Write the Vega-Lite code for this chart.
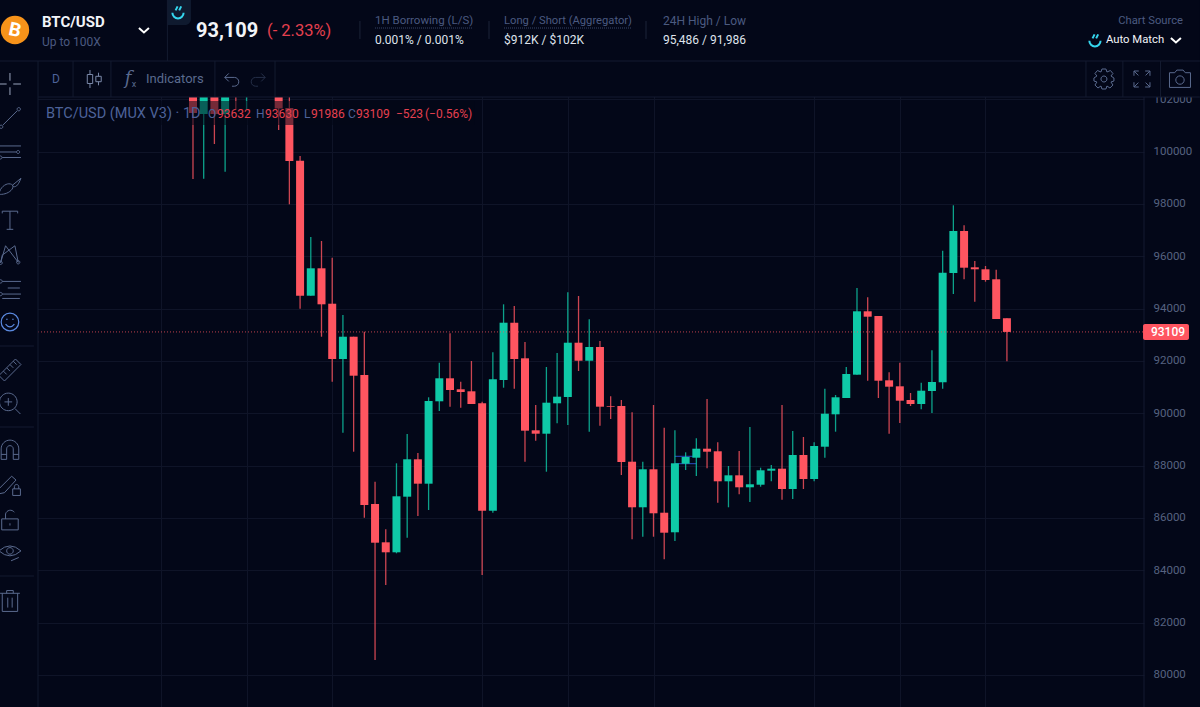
{
"$schema":"https://vega.github.io/schema/vega-lite/v6.json",
"width":1144,"height":707,"autosize":"none","padding":{"left":0,"top":0,"right":56,"bottom":0},
"background":"#030718",
"config":{"font":"Roboto","view":{"stroke":null}},
"data":{"values":[{}]},
"datasets":{
"markers":[{"from":45,"to":47,"price":88356},{"from":45,"to":47,"price":88074}],
"candles":[
{"day":0,"open":103200,"high":103500,"low":98952,"close":101474},
{"day":1,"open":101436,"high":103300,"low":98964,"close":103000},
{"day":2,"open":103000,"high":103400,"low":100290,"close":101436},
{"day":3,"open":101436,"high":103100,"low":99231,"close":102900},
{"day":4,"open":103500,"high":103900,"low":101589,"close":102700},
{"day":5,"open":102500,"high":103600,"low":101589,"close":103200},
{"day":8,"open":103000,"high":103300,"low":100824,"close":101646},
{"day":9,"open":101665,"high":102300,"low":97986,"close":99640},
{"day":10,"open":99651,"high":99831,"low":93996,"close":94493},
{"day":11,"open":94493,"high":96736,"low":94493,"close":95540},
{"day":12,"open":95540,"high":96583,"low":92926,"close":94164},
{"day":13,"open":94187,"high":95945,"low":91207,"close":92074},
{"day":14,"open":92074,"high":93756,"low":89258,"close":92926},
{"day":15,"open":92926,"high":92926,"low":88532,"close":91436},
{"day":16,"open":91463,"high":93118,"low":86010,"close":86496},
{"day":17,"open":86534,"high":87386,"low":80573,"close":85055},
{"day":18,"open":85070,"high":85567,"low":83439,"close":84688},
{"day":19,"open":84688,"high":88089,"low":84650,"close":86828},
{"day":20,"open":86813,"high":89209,"low":85246,"close":88242},
{"day":21,"open":88242,"high":88483,"low":86075,"close":87310},
{"day":22,"open":87310,"high":90611,"low":86305,"close":90470},
{"day":23,"open":90458,"high":91933,"low":90087,"close":91337},
{"day":24,"open":91337,"high":93056,"low":90252,"close":90890},
{"day":25,"open":90917,"high":91207,"low":90214,"close":90813},
{"day":26,"open":90840,"high":91998,"low":90355,"close":90355},
{"day":27,"open":90382,"high":90443,"low":83821,"close":86278},
{"day":28,"open":86278,"high":92330,"low":86201,"close":91299},
{"day":29,"open":91272,"high":94164,"low":90978,"close":93461},
{"day":30,"open":93461,"high":94099,"low":90940,"close":92074},
{"day":31,"open":92101,"high":92724,"low":88150,"close":89335},
{"day":32,"open":89350,"high":90317,"low":88953,"close":89220},
{"day":33,"open":89220,"high":91769,"low":87768,"close":90405},
{"day":34,"open":90382,"high":92304,"low":89617,"close":90634},
{"day":35,"open":90622,"high":94623,"low":89553,"close":92697},
{"day":36,"open":92697,"high":94482,"low":91616,"close":92009},
{"day":37,"open":92009,"high":93591,"low":89297,"close":92533},
{"day":38,"open":92533,"high":92762,"low":89526,"close":90252},
{"day":39,"open":90278,"high":90649,"low":89782,"close":90252},
{"day":40,"open":90278,"high":90508,"low":87642,"close":88139},
{"day":41,"open":88150,"high":90038,"low":85185,"close":86408},
{"day":42,"open":86408,"high":88150,"low":85284,"close":87860},
{"day":43,"open":87860,"high":90317,"low":85284,"close":86179},
{"day":44,"open":86201,"high":89449,"low":84421,"close":85437},
{"day":45,"open":85453,"high":89350,"low":85120,"close":88089},
{"day":46,"open":88074,"high":88509,"low":87833,"close":88330},
{"day":47,"open":88303,"high":89044,"low":87604,"close":88647},
{"day":48,"open":88647,"high":90546,"low":87898,"close":88532},
{"day":49,"open":88548,"high":88892,"low":86584,"close":87401},
{"day":50,"open":87401,"high":87986,"low":86408,"close":87630},
{"day":51,"open":87630,"high":88559,"low":86905,"close":87172},
{"day":52,"open":87172,"high":89476,"low":86610,"close":87287},
{"day":53,"open":87271,"high":87921,"low":87195,"close":87822},
{"day":54,"open":87806,"high":88024,"low":87401,"close":87883},
{"day":55,"open":87883,"high":90317,"low":86698,"close":87107},
{"day":56,"open":87107,"high":89323,"low":86725,"close":88406},
{"day":57,"open":88406,"high":89094,"low":87107,"close":87489},
{"day":58,"open":87489,"high":88892,"low":87401,"close":88750},
{"day":59,"open":88723,"high":90940,"low":88303,"close":89984},
{"day":60,"open":89961,"high":90699,"low":89297,"close":90611},
{"day":61,"open":90584,"high":91769,"low":90584,"close":91501},
{"day":62,"open":91475,"high":94787,"low":91475,"close":93897},
{"day":63,"open":93897,"high":94432,"low":91245,"close":93691},
{"day":64,"open":93717,"high":93717,"low":90584,"close":91245},
{"day":65,"open":91260,"high":91566,"low":89220,"close":91016},
{"day":66,"open":91031,"high":91933,"low":89629,"close":90481},
{"day":67,"open":90508,"high":90775,"low":90278,"close":90355},
{"day":68,"open":90355,"high":91169,"low":90152,"close":90863},
{"day":69,"open":90852,"high":92407,"low":90011,"close":91196},
{"day":70,"open":91184,"high":96213,"low":90940,"close":95372},
{"day":71,"open":95360,"high":97947,"low":94558,"close":96965},
{"day":72,"open":96965,"high":97183,"low":95120,"close":95563},
{"day":73,"open":95578,"high":95819,"low":94264,"close":95502},
{"day":74,"open":95502,"high":95628,"low":95028,"close":95093},
{"day":75,"open":95120,"high":95487,"low":93603,"close":93603},
{"day":76,"open":93632,"high":93632,"low":91986,"close":93109}
]},
"layer":[
{"data":{"name":"markers"},"mark":{"type":"rule","color":"#2a4fc4","strokeWidth":1},"encoding":{
 "x":{"field":"from","type":"quantitative","title":null,"scale":{"domain":[-18.02,88.8],"nice":false,"zero":false,"padding":0},
  "axis":{"values":[-3,5,13,27,35,43,58,66,74],"grid":true,"gridColor":"#0f1428","labels":false,"ticks":false,"domain":false,"title":null}},
 "x2":{"field":"to"},
 "y":{"field":"price","type":"quantitative","title":null,"scale":{"domain":[78777,105792],"nice":false,"zero":false},
  "axis":{"orient":"right","values":[80000,82000,84000,86000,88000,90000,92000,94000,96000,98000,100000,102000],"format":"d","grid":true,"gridColor":"#0f1428","labelColor":"#566280","labelFontSize":11.5,"labelPadding":9,"ticks":false,"domain":false,"title":null,"labelBound":false,"labelFlush":false}}}},
{"data":{"name":"candles"},"mark":{"type":"rule","strokeWidth":1.3,"opacity":0.8},"encoding":{
 "x":{"field":"day","type":"quantitative"},"y":{"field":"low","type":"quantitative"},"y2":{"field":"high"},
 "color":{"condition":{"test":"datum.close >= datum.open","value":"#0fc9a7"},"value":"#ff5560"}}},
{"data":{"name":"candles"},"mark":{"type":"bar","size":8},"encoding":{
 "x":{"field":"day","type":"quantitative"},"y":{"field":"open","type":"quantitative"},"y2":{"field":"close"},
 "color":{"condition":{"test":"datum.close >= datum.open","value":"#0fc9a7"},"value":"#ff5560"}}},
{"mark":{"type":"rule","color":"#ff5560","strokeWidth":1,"strokeDash":[1,2],"opacity":0.75},"encoding":{"x":{"datum":-14.47},"x2":{"datum":88.8},"y":{"datum":93109}}},

{"mark":{"type":"rect","color":"#030718"},"encoding":{"x":{"datum":-18.02},"x2":{"datum":94.02},"y":{"datum":105792},"y2":{"datum":102085}}},
{"mark":{"type":"rect","color":"#030718"},"encoding":{"x":{"datum":-18.02},"x2":{"datum":-14.47},"y":{"datum":102085},"y2":{"datum":78777}}},
{"mark":{"type":"rect","color":"#030718","opacity":0.55},"encoding":{"x":{"datum":-14.29},"x2":{"datum":26.33},"y":{"datum":101933},"y2":{"datum":101016}}},
{"mark":{"type":"rect","color":"#0f1a2f","cornerRadiusBottomRight":6},"encoding":{"x":{"datum":-2.39},"x2":{"datum":-0.19},"y":{"datum":105792},"y2":{"datum":104837}}},

{"mark":{"type":"rule","color":"#141b30"},"encoding":{"x":{"datum":-18.02},"x2":{"datum":94.02},"y":{"datum":103461}}},
{"mark":{"type":"rule","color":"#141b30"},"encoding":{"x":{"datum":-14.47},"x2":{"datum":94.02},"y":{"datum":102085}}},
{"mark":{"type":"rule","color":"#141b30"},"encoding":{"x":{"datum":-14.47},"y":{"datum":103461},"y2":{"datum":78777}}},
{"mark":{"type":"rule","color":"#141b30"},"encoding":{"x":{"datum":88.8},"y":{"datum":102085},"y2":{"datum":78777}}},
{"mark":{"type":"rule","color":"#141b30"},"encoding":{"x":{"datum":-2.39},"y":{"datum":105792},"y2":{"datum":103461}}},
{"mark":{"type":"rule","color":"#141b30"},"encoding":{"x":{"datum":-11.2},"y":{"datum":103461},"y2":{"datum":102085}}},
{"mark":{"type":"rule","color":"#141b30"},"encoding":{"x":{"datum":-7.66},"y":{"datum":103461},"y2":{"datum":102085}}},
{"mark":{"type":"rule","color":"#141b30"},"encoding":{"x":{"datum":2.05},"y":{"datum":103461},"y2":{"datum":102085}}},
{"mark":{"type":"rule","color":"#141b30"},"encoding":{"x":{"datum":7.66},"y":{"datum":103461},"y2":{"datum":102085}}},
{"mark":{"type":"rule","color":"#141b30"},"encoding":{"x":{"datum":83.38},"y":{"datum":103461},"y2":{"datum":102085}}},
{"mark":{"type":"rule","color":"#141b30"},"encoding":{"x":{"datum":86.83},"y":{"datum":103461},"y2":{"datum":102085}}},
{"mark":{"type":"rule","color":"#141b30"},"encoding":{"x":{"datum":90.34},"y":{"datum":103461},"y2":{"datum":102085}}},
{"mark":{"type":"rule","color":"#1c2438"},"encoding":{"x":{"datum":15.59},"y":{"datum":104989},"y2":{"datum":104302}}},
{"mark":{"type":"rule","color":"#1c2438"},"encoding":{"x":{"datum":27.64},"y":{"datum":104989},"y2":{"datum":104302}}},
{"mark":{"type":"rule","color":"#1c2438"},"encoding":{"x":{"datum":42.3},"y":{"datum":104989},"y2":{"datum":104302}}},
{"mark":{"type":"rule","color":"#141b30"},"encoding":{"x":{"datum":-18.02},"x2":{"datum":-14.85},"y":{"datum":92571}}},
{"mark":{"type":"rule","color":"#141b30"},"encoding":{"x":{"datum":-18.02},"x2":{"datum":-14.85},"y":{"datum":89476}}},
{"mark":{"type":"rule","color":"#141b30"},"encoding":{"x":{"datum":-18.02},"x2":{"datum":-14.85},"y":{"datum":83783}}},
{"mark":{"type":"rule","color":"#3a4768","strokeDash":[1,1]},"encoding":{"x":{"datum":16.99},"x2":{"datum":26.14},"y":{"datum":104722}}},
{"mark":{"type":"rule","color":"#3a4768","strokeDash":[1,1]},"encoding":{"x":{"datum":29.04},"x2":{"datum":40.9},"y":{"datum":104722}}},

{"mark":{"type":"rect","color":"#ff5560","cornerRadius":2},"encoding":{"x":{"datum":88.71},"x2":{"datum":93.0},"y":{"datum":93412},"y2":{"datum":92800}}},
{"mark":{"type":"text","color":"#ffffff","fontSize":12,"fontWeight":500,"align":"center","baseline":"middle"},"encoding":{"x":{"datum":91.04},"y":{"datum":93109},"text":{"value":"93109"}}},

{"mark":{"type":"point","shape":"circle","size":804,"filled":true,"color":"#f7931a","opacity":1},"encoding":{"x":{"datum":-16.62},"y":{"datum":104645}}},
{"mark":{"type":"text","color":"#ffffff","fontSize":19,"fontWeight":"bold","align":"center","baseline":"middle","angle":12},"encoding":{"x":{"datum":-16.62},"y":{"datum":104645},"text":{"value":"B"}}},
{"mark":{"type":"text","color":"#f2f4f8","fontSize":15,"fontWeight":"bold","align":"left","baseline":"middle"},"encoding":{"x":{"datum":-14.1},"y":{"datum":104951},"text":{"value":"BTC/USD"}}},
{"mark":{"type":"text","color":"#4b5a80","fontSize":12,"align":"left","baseline":"middle"},"encoding":{"x":{"datum":-14.1},"y":{"datum":104187},"text":{"value":"Up to 100X"}}},
{"mark":{"type":"text","color":"#f2f4f8","fontSize":20,"fontWeight":"bold","align":"left","baseline":"middle"},"encoding":{"x":{"datum":0.28},"y":{"datum":104607},"text":{"value":"93,109"}}},
{"mark":{"type":"text","color":"#e5404f","fontSize":16.5,"align":"left","baseline":"middle"},"encoding":{"x":{"datum":6.91},"y":{"datum":104607},"text":{"value":"(- 2.33%)"}}},
{"mark":{"type":"text","color":"#4b5a80","fontSize":11.5,"align":"left","baseline":"middle"},"encoding":{"x":{"datum":16.99},"y":{"datum":104989},"text":{"value":"1H Borrowing (L/S)"}}},
{"mark":{"type":"text","color":"#dfe3ec","fontSize":12,"align":"left","baseline":"middle"},"encoding":{"x":{"datum":16.99},"y":{"datum":104263},"text":{"value":"0.001% / 0.001%"}}},
{"mark":{"type":"text","color":"#4b5a80","fontSize":11.2,"align":"left","baseline":"middle"},"encoding":{"x":{"datum":29.04},"y":{"datum":104989},"text":{"value":"Long / Short (Aggregator)"}}},
{"mark":{"type":"text","color":"#dfe3ec","fontSize":12,"align":"left","baseline":"middle"},"encoding":{"x":{"datum":29.04},"y":{"datum":104263},"text":{"value":"$912K / $102K"}}},
{"mark":{"type":"text","color":"#4b5a80","fontSize":12,"align":"left","baseline":"middle"},"encoding":{"x":{"datum":43.88},"y":{"datum":104989},"text":{"value":"24H High / Low"}}},
{"mark":{"type":"text","color":"#dfe3ec","fontSize":12,"align":"left","baseline":"middle"},"encoding":{"x":{"datum":43.88},"y":{"datum":104263},"text":{"value":"95,486 / 91,986"}}},
{"mark":{"type":"text","color":"#4b5a80","fontSize":11.2,"align":"right","baseline":"middle"},"encoding":{"x":{"datum":92.44},"y":{"datum":104989},"text":{"value":"Chart Source"}}},
{"mark":{"type":"text","color":"#f2f4f8","fontSize":11.3,"align":"left","baseline":"middle"},"encoding":{"x":{"datum":85.25},"y":{"datum":104263},"text":{"value":"Auto Match"}}},
{"mark":{"type":"text","color":"#4d6299","fontSize":12,"align":"center","baseline":"middle"},"encoding":{"x":{"datum":-12.79},"y":{"datum":102773},"text":{"value":"D"}}},
{"mark":{"type":"text","color":"#5a6a8e","fontSize":13,"align":"left","baseline":"middle"},"encoding":{"x":{"datum":-4.39},"y":{"datum":102773},"text":{"value":"Indicators"}}},
{"mark":{"type":"text","color":"#5a6a8e","fontSize":18,"font":"DejaVu Serif","fontStyle":"italic","align":"center","baseline":"middle"},"encoding":{"x":{"datum":-6.07},"y":{"datum":102773},"text":{"value":"f"}}},
{"mark":{"type":"text","color":"#5a6a8e","fontSize":9,"align":"center","baseline":"middle"},"encoding":{"x":{"datum":-5.51},"y":{"datum":102582},"text":{"value":"x"}}},

{"mark":{"type":"text","color":"#4d6299","fontSize":14.5,"align":"left","baseline":"middle"},"encoding":{"x":{"datum":-13.73},"y":{"datum":101436},"text":{"value":"BTC/USD (MUX V3) · 1D"}}},
{"mark":{"type":"text","color":"#4d6299","fontSize":12,"align":"left","baseline":"middle"},"encoding":{"x":{"datum":1.4},"y":{"datum":101436},"text":{"value":"O"}}},
{"mark":{"type":"text","color":"#e5404f","fontSize":12,"align":"left","baseline":"middle"},"encoding":{"x":{"datum":2.24},"y":{"datum":101436},"text":{"value":"93632"}}},
{"mark":{"type":"text","color":"#4d6299","fontSize":12,"align":"left","baseline":"middle"},"encoding":{"x":{"datum":5.88},"y":{"datum":101436},"text":{"value":"H"}}},
{"mark":{"type":"text","color":"#e5404f","fontSize":12,"align":"left","baseline":"middle"},"encoding":{"x":{"datum":6.72},"y":{"datum":101436},"text":{"value":"93630"}}},
{"mark":{"type":"text","color":"#4d6299","fontSize":12,"align":"left","baseline":"middle"},"encoding":{"x":{"datum":10.36},"y":{"datum":101436},"text":{"value":"L"}}},
{"mark":{"type":"text","color":"#e5404f","fontSize":12,"align":"left","baseline":"middle"},"encoding":{"x":{"datum":11.02},"y":{"datum":101436},"text":{"value":"91986"}}},
{"mark":{"type":"text","color":"#4d6299","fontSize":12,"align":"left","baseline":"middle"},"encoding":{"x":{"datum":14.47},"y":{"datum":101436},"text":{"value":"C"}}},
{"mark":{"type":"text","color":"#e5404f","fontSize":12,"align":"left","baseline":"middle"},"encoding":{"x":{"datum":15.22},"y":{"datum":101436},"text":{"value":"93109"}}},
{"mark":{"type":"text","color":"#e5404f","fontSize":12,"align":"left","baseline":"middle"},"encoding":{"x":{"datum":18.95},"y":{"datum":101436},"text":{"value":"−523"}}},
{"mark":{"type":"text","color":"#e5404f","fontSize":12,"align":"left","baseline":"middle"},"encoding":{"x":{"datum":21.66},"y":{"datum":101436},"text":{"value":"(−0.56%)"}}},

{"mark":{"type":"point","shape":"M-1 0H-.3M.3 0H1M0 -1V-.3M0 .3V1","size":484,"filled":false,"stroke":"#9aa5bd","strokeWidth":1,"opacity":1},"encoding":{"x":{"datum":-17.09},"y":{"datum":102582}}},
{"mark":{"type":"point","shape":"M-.65 .65L.65 -.65M-.95 .8a.15 .15 0 1 0 .3 0a.15 .15 0 1 0 -.3 0M.65 -.8a.15 .15 0 1 0 .3 0a.15 .15 0 1 0 -.3 0","size":484,"filled":false,"stroke":"#5a6a8e","strokeWidth":1,"opacity":1},"encoding":{"x":{"datum":-17.09},"y":{"datum":101283}}},
{"mark":{"type":"point","shape":"M-1 -.55H1M-1 0H.6M-.7 .5H1M.6 0a.14 .14 0 1 0 .28 0a.14 .14 0 1 0 -.28 0M-1 .5a.14 .14 0 1 0 .28 0a.14 .14 0 1 0 -.28 0","size":484,"filled":false,"stroke":"#5a6a8e","strokeWidth":1,"opacity":1},"encoding":{"x":{"datum":-17.09},"y":{"datum":99984}}},
{"mark":{"type":"point","shape":"M-1 .75C-.9 .1 -.4 -.2 -.1 -.2C.3 -.2 .4 .1 .1 .4C-.2 .7 -.7 .8 -1 .75M.2 -.05L1 -.7M.3 .05C.6 .15 .8 -.2 1 -.7","size":484,"filled":false,"stroke":"#5a6a8e","strokeWidth":1,"opacity":1},"encoding":{"x":{"datum":-17.09},"y":{"datum":98685}}},
{"mark":{"type":"point","shape":"M-.7 -.6V-.8H.7V-.6M0 -.8V.85M-.3 .85H.3","size":484,"filled":false,"stroke":"#5a6a8e","strokeWidth":1,"opacity":1},"encoding":{"x":{"datum":-17.09},"y":{"datum":97386}}},
{"mark":{"type":"point","shape":"M-.85 .8L-.4 -.75L.75 .75L.45 -.75L-.7 .1ZM-1 .8a.15 .15 0 1 0 .3 0a.15 .15 0 1 0 -.3 0M.6 .75a.15 .15 0 1 0 .3 0a.15 .15 0 1 0 -.3 0","size":484,"filled":false,"stroke":"#5a6a8e","strokeWidth":1,"opacity":1},"encoding":{"x":{"datum":-17.09},"y":{"datum":96086}}},
{"mark":{"type":"point","shape":"M-.7 -.6H1M-.2 0H.9M-.7 .55H1M-.7 .95H.9M-1 -.6a.15 .15 0 1 0 .3 0a.15 .15 0 1 0 -.3 0M-1 .55a.15 .15 0 1 0 .3 0a.15 .15 0 1 0 -.3 0","size":484,"filled":false,"stroke":"#5a6a8e","strokeWidth":1,"opacity":1},"encoding":{"x":{"datum":-17.09},"y":{"datum":94787}}},
{"mark":{"type":"point","shape":"M-.8 0a.8 .8 0 1 0 1.6 0a.8 .8 0 1 0 -1.6 0M-.4 .2Q0 .7 .4 .2M-.35 -.25h.14M.2 -.25h.14","size":484,"filled":false,"stroke":"#5b8ae0","strokeWidth":1.2,"opacity":1},"encoding":{"x":{"datum":-17.09},"y":{"datum":93488}}},
{"mark":{"type":"point","shape":"M-1 .5L.5 -1L1 -.5L-.5 1ZM-.6 .1L-.3 .4M-.3 -.2L0 .1M0 -.5L.3 -.2M.3 -.8L.6 -.5","size":484,"filled":false,"stroke":"#5a6a8e","strokeWidth":1,"opacity":1},"encoding":{"x":{"datum":-17.09},"y":{"datum":91654}}},
{"mark":{"type":"point","shape":"M-.95 -.1a.8 .8 0 1 0 1.6 0a.8 .8 0 1 0 -1.6 0M.45 .5L.95 1M-.15 -.45V.25M-.5 -.1H.2","size":484,"filled":false,"stroke":"#5a6a8e","strokeWidth":1,"opacity":1},"encoding":{"x":{"datum":-17.09},"y":{"datum":90393}}},
{"mark":{"type":"point","shape":"M-.8 .85V-.1A.8 .8 0 0 1 .8 -.1V.85H.3V-.1A.3 .3 0 0 0 -.3 -.1V.85H-.8ZM-.8 .4H-.3M.3 .4H.8","size":484,"filled":false,"stroke":"#5a6a8e","strokeWidth":1,"opacity":1},"encoding":{"x":{"datum":-17.09},"y":{"datum":88597}}},
{"mark":{"type":"point","shape":"M-.95 .3L.15 -.8L.55 -.45L-.5 .7L-1 .8ZM.25 .35h.7v.6h-.7ZM.4 .35v-.2a.2 .2 0 0 1 .4 0v.2","size":484,"filled":false,"stroke":"#5a6a8e","strokeWidth":1,"opacity":1},"encoding":{"x":{"datum":-17.09},"y":{"datum":87260}}},
{"mark":{"type":"point","shape":"M-.75 -.1H.75V.9H-.75ZM-.4 -.1V-.55A.45 .45 0 0 1 .4 -.7M0 .3V.5","size":484,"filled":false,"stroke":"#5a6a8e","strokeWidth":1,"opacity":1},"encoding":{"x":{"datum":-17.09},"y":{"datum":85923}}},
{"mark":{"type":"point","shape":"M-1 -.1Q0 -1 1 -.1Q0 .8 -1 -.1ZM-.3 -.1a.3 .3 0 1 0 .6 0a.3 .3 0 1 0 -.6 0M.1 .8L.8 .5","size":484,"filled":false,"stroke":"#5a6a8e","strokeWidth":1,"opacity":1},"encoding":{"x":{"datum":-17.09},"y":{"datum":84700}}},
{"mark":{"type":"point","shape":"M-.9 -.7H.9M-.3 -.7V-.95H.3V-.7M-.7 -.7V.95H.7V-.7M-.2 -.3V.6M.2 -.3V.6","size":484,"filled":false,"stroke":"#5a6a8e","strokeWidth":1,"opacity":1},"encoding":{"x":{"datum":-17.09},"y":{"datum":82828}}},

{"mark":{"type":"point","shape":"M-1 -.4L0 .5L1 -.4","size":100,"filled":false,"stroke":"#ffffff","strokeWidth":2,"opacity":1},"encoding":{"x":{"datum":-4.58},"y":{"datum":104645}}},
{"mark":{"type":"point","shape":"M-1 -.4L0 .5L1 -.4","size":100,"filled":false,"stroke":"#ffffff","strokeWidth":2,"opacity":1},"encoding":{"x":{"datum":91.78},"y":{"datum":104263}}},
{"mark":{"type":"point","shape":"M-.7 .1A.7 .7 0 0 0 .7 .1M-.3 -.2L-.05 -.7M.15 -.2L.4 -.7","size":256,"filled":false,"stroke":"#35d6ee","strokeWidth":2,"opacity":1},"encoding":{"x":{"datum":-1.4},"y":{"datum":105333}}},
{"mark":{"type":"point","shape":"M-.7 .1A.7 .7 0 0 0 .7 .1M-.3 -.2L-.05 -.7M.15 -.2L.4 -.7","size":256,"filled":false,"stroke":"#35d6ee","strokeWidth":2,"opacity":1},"encoding":{"x":{"datum":84.22},"y":{"datum":104263}}},
{"mark":{"type":"point","shape":"M-.75 -.5H-.15V.5H-.75ZM-.45 -1V-.5M-.45 .5V1M.2 -.3H.8V.3H.2ZM.5 -.7V-.3M.5 .3V.7","size":324,"filled":false,"stroke":"#7a88a8","strokeWidth":1,"opacity":1},"encoding":{"x":{"datum":-9.24},"y":{"datum":102773}}},
{"mark":{"type":"point","shape":"M-.9 -.2L-.4 -.7M-.9 -.2L-.4 .3M-.9 -.2H.3A.55 .55 0 0 1 .3 .9H0","size":256,"filled":false,"stroke":"#5a6a8e","strokeWidth":1,"opacity":1},"encoding":{"x":{"datum":3.64},"y":{"datum":102773}}},
{"mark":{"type":"point","shape":"M.9 -.2L.4 -.7M.9 -.2L.4 .3M.9 -.2H-.3A.55 .55 0 0 0 -.3 .9H0","size":256,"filled":false,"stroke":"#252f48","strokeWidth":1,"opacity":1},"encoding":{"x":{"datum":6.07},"y":{"datum":102773}}},
{"mark":{"type":"point","shape":"M-.2 -1H.2L.3 -.7L.65 -.85L.9 -.55L.7 -.3L1 -.1V.2L.7 .3L.9 .6L.6 .9L.3 .7L.2 1H-.2L-.3 .7L-.6 .9L-.9 .6L-.7 .3L-1 .2V-.1L-.7 -.3L-.9 -.55L-.65 -.85L-.3 -.7ZM-.3 0a.3 .3 0 1 0 .6 0a.3 .3 0 1 0 -.6 0","size":400,"filled":false,"stroke":"#5a6a8e","strokeWidth":1,"opacity":1},"encoding":{"x":{"datum":85.06},"y":{"datum":102773}}},
{"mark":{"type":"point","shape":"M-1 -1H-.4M-1 -1V-.4M-1 -1L-.45 -.45M1 -1H.4M1 -1V-.4M1 -1L.45 -.45M-1 1H-.4M-1 1V.4M-1 1L-.45 .45M1 1H.4M1 1V.4M1 1L.45 .45","size":256,"filled":false,"stroke":"#5a6a8e","strokeWidth":1,"opacity":1},"encoding":{"x":{"datum":88.61},"y":{"datum":102773}}},
{"mark":{"type":"point","shape":"M-1 -.6H-.5L-.3 -.85H.3L.5 -.6H1V.8H-1ZM-.4 .1a.4 .4 0 1 0 .8 0a.4 .4 0 1 0 -.8 0","size":441,"filled":false,"stroke":"#5a6a8e","strokeWidth":1,"opacity":1},"encoding":{"x":{"datum":92.16},"y":{"datum":102773}}}
]
}
